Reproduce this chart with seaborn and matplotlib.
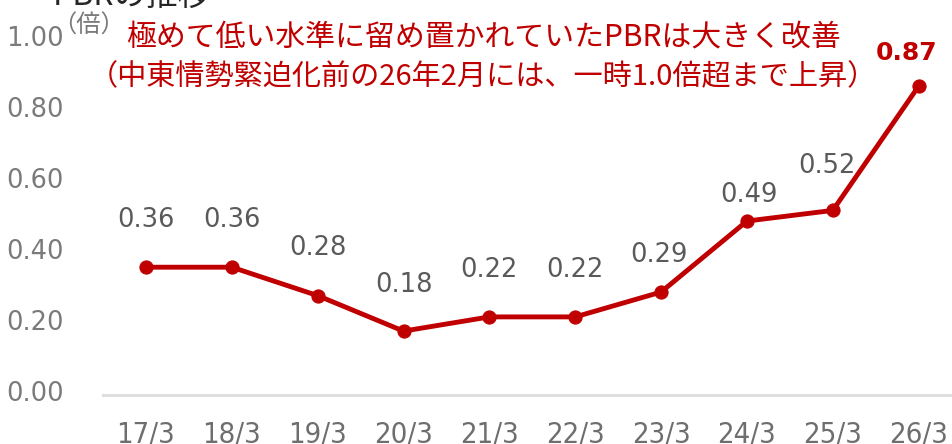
import matplotlib
matplotlib.use("Agg")
import matplotlib.pyplot as plt
import seaborn as sns
import pandas as pd
from matplotlib.transforms import ScaledTranslation

# ---- data ----
periods = ["17/3", "18/3", "19/3", "20/3", "21/3", "22/3", "23/3", "24/3", "25/3", "26/3"]
pbr = [0.36, 0.36, 0.28, 0.18, 0.22, 0.22, 0.29, 0.49, 0.52, 0.87]
yticks = [0.00, 0.20, 0.40, 0.60, 0.80, 1.00]
title_text = "PBRの推移"
unit_text = "（倍）"
note_line1 = "極めて低い水準に留め置かれていたPBRは大きく改善"
note_line2 = "（中東情勢緊迫化前の26年2月には、一時1.0倍超まで上昇）"

# label offsets (pixels) relative to markers -- layout only
lab_dy = [47, 47, 48, 46, 47, 47, 37, 26, 44, 33]
lab_dx = [0, 0, 0, 0, 0, 0, -2, 2, -6, -12]

sns.set_style("white")
plt.rcParams["font.family"] = ["DejaVu Sans", "Noto Sans CJK JP"]

RED = "#C00000"
W, H, DPI = 953, 444, 100
fig = plt.figure(figsize=(W / DPI, H / DPI), dpi=DPI)
ax = fig.add_axes([103 / W, 49 / H, (W - 103) / W, 395 / H])

df = pd.DataFrame({"x": range(len(periods)), "pbr": pbr})
sns.lineplot(data=df, x="x", y="pbr", ax=ax, color=RED, linewidth=3.5,
             marker="o", markersize=9.5, markeredgecolor=RED, markerfacecolor=RED,
             clip_on=False)

ax.set_xlim(-0.5, 9.4)
ax.set_ylim(0, 395 / 355)
ax.set_xticks(range(len(periods)))
ax.set_xticklabels(periods)
ax.set_yticks(yticks)
ax.set_yticklabels([f"{v:.2f}" for v in yticks])
ax.set_xlabel("")
ax.set_ylabel("")

for s in ["top", "right", "left"]:
    ax.spines[s].set_visible(False)
ax.spines["bottom"].set_color("#dedede")
ax.spines["bottom"].set_linewidth(2.2)

ax.tick_params(axis="y", length=0, pad=28, labelsize=18.5, labelcolor="#7a7a7a")
ax.tick_params(axis="x", length=0, pad=18, labelsize=21, labelcolor="#6e6e6e")
for lab in ax.get_xticklabels():
    lab.set_fontstretch("condensed")
for lab in ax.get_yticklabels():
    lab.set_transform(lab.get_transform() + ScaledTranslation(0, 4 / DPI, fig.dpi_scale_trans))

# data labels
for i, v in enumerate(pbr):
    last = i == len(pbr) - 1
    ax.annotate(f"{v:.2f}", xy=(i, v),
                xytext=(lab_dx[i] * 0.72, lab_dy[i] * 0.72), textcoords="offset points",
                ha="center", va="center",
                fontsize=18 if last else 18.5,
                fontweight="bold" if last else "normal",
                color=RED if last else "#5a5a5a")

# unit label
fig.text(89 / W, 1 - 26 / H, unit_text, ha="center", va="center",
         fontsize=17.5, color="#7a7a7a", family=["Noto Sans CJK JP", "DejaVu Sans"])

# annotation
fig.text(483 / W, 1 - 38 / H, note_line1, ha="center", va="center",
         fontsize=21.5, color=RED, family=["Noto Sans CJK JP", "DejaVu Sans"])
fig.text(483 / W, 1 - 77 / H, note_line2, ha="center", va="center",
         fontsize=21, color=RED, family=["Noto Sans CJK JP", "DejaVu Sans"])

# clipped title at top
fig.text(53 / W, 1 - 5 / H, title_text, ha="left", va="baseline",
         fontsize=23, color="#262626", family=["Noto Sans CJK JP", "DejaVu Sans"])

fig.savefig("out.png", dpi=DPI)
